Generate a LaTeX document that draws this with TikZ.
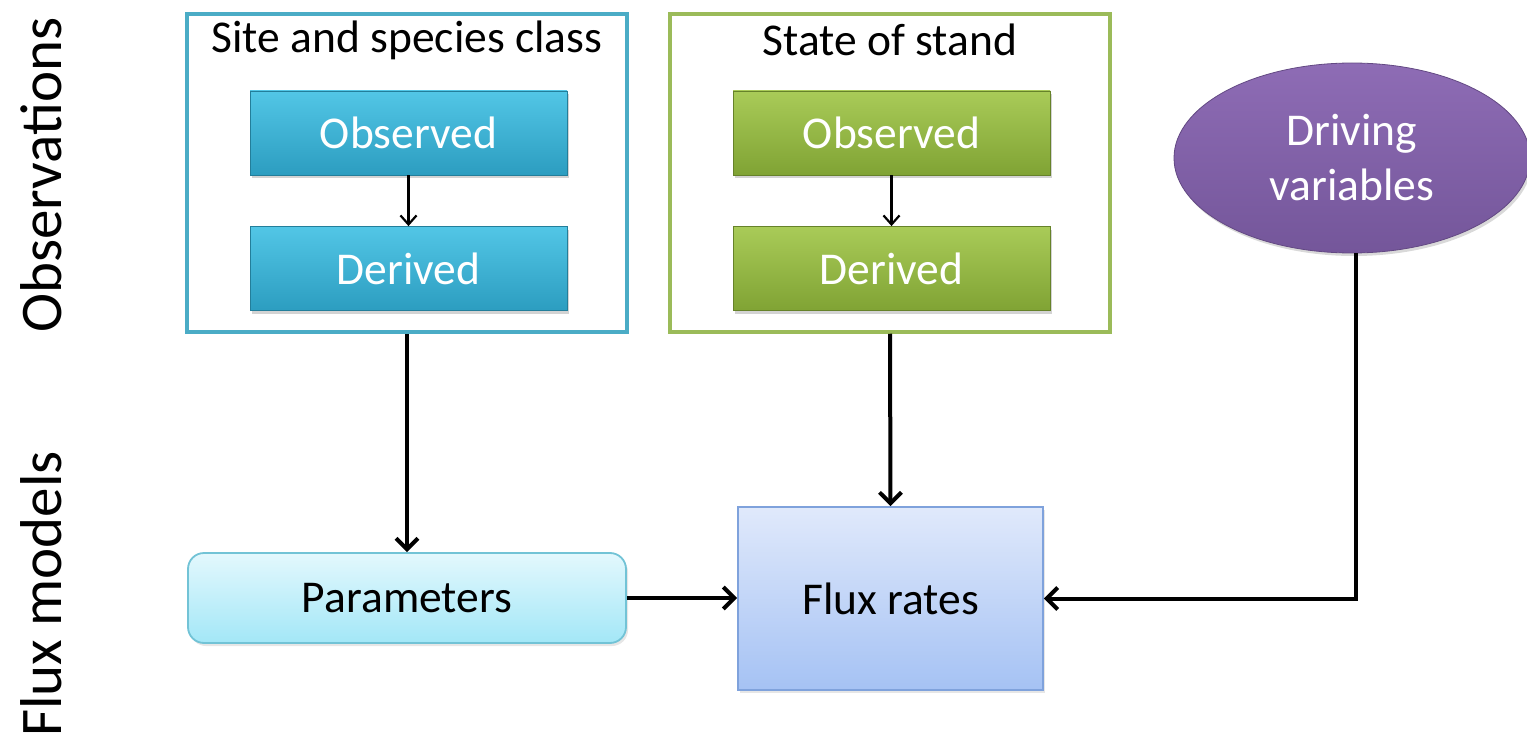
\documentclass[tikz,border=0pt]{standalone}
\usepackage{fontspec}
\setmainfont{Carlito}
\usetikzlibrary{arrows.meta,shapes.geometric,shadows}
\definecolor{cyanline}{HTML}{4BACC6}
\definecolor{greenline}{HTML}{9BBB59}
\definecolor{cyantop}{HTML}{52C6E6}
\definecolor{cyanbot}{HTML}{2C9DC0}
\definecolor{greentop}{HTML}{A9CB58}
\definecolor{greenbot}{HTML}{80A334}
\definecolor{purptop}{HTML}{8E6CB5}
\definecolor{purpbot}{HTML}{74569A}
\definecolor{partop}{HTML}{E3F8FD}
\definecolor{parbot}{HTML}{A3E7F7}
\definecolor{parline}{HTML}{72C3D6}
\definecolor{fluxtop}{HTML}{E0E9FB}
\definecolor{fluxbot}{HTML}{A5C2F4}
\definecolor{fluxline}{HTML}{7FA2DC}
\tikzset{
  bigfont/.style={font=\fontsize{45.5}{52}\selectfont},
  sidefont/.style={font=\fontsize{59}{64}\selectfont},
  group/.style={draw, line width=3.5pt, minimum width=440pt, minimum height=318pt, inner sep=0pt},
  inner/.style={bigfont, text=white, minimum width=317pt, minimum height=84pt, inner sep=0pt,
     drop shadow={shadow xshift=2pt, shadow yshift=-3pt, opacity=0.35}},
  cyanbox/.style={inner, top color=cyantop, bottom color=cyanbot, draw=cyanbot!80!black, line width=0.8pt},
  greenbox/.style={inner, top color=greentop, bottom color=greenbot, draw=greenbot!80!black, line width=0.8pt},
  thinarrow/.style={-{Straight Barb[length=9pt,width=16pt]}, line width=2.2pt},
  thickarrow/.style={-{Straight Barb[length=11pt,width=22pt]}, line width=4pt},
}
\begin{document}
\begin{tikzpicture}[x=1pt,y=-1pt]
\useasboundingbox (0,0) rectangle (1527,741);
% side labels
\node[sidefont, rotate=90] (obslbl) at (41,175) {Observations};
\node[sidefont, rotate=90] (fluxlbl) at (41,594) {Flux models};
% group boxes
\node[group, draw=cyanline] (g1) at (407,173) {};
\node[group, draw=greenline] (g2) at (890,173) {};
\node[bigfont] (t1) at (407,40) {Site and species class};
\node[bigfont] (t2) at (890,40) {State of stand};
% inner boxes
\node[cyanbox] (o1) at (408.5,133) {Observed};
\node[cyanbox] (d1) at (408.5,268.5) {Derived};
\node[greenbox] (o2) at (891.5,133) {Observed};
\node[greenbox] (d2) at (891.5,268.5) {Derived};
% driving variables
\node[ellipse, bigfont, text=white, align=center, minimum width=356pt, minimum height=190pt, inner sep=0pt,
      top color=purptop, bottom color=purpbot, draw=purpbot!85!black, line width=0.8pt,
      drop shadow={shadow xshift=2pt, shadow yshift=-3pt, opacity=0.3}] (drv) at (1352,158) {Driving\\[3pt]variables};
% flux model boxes
\node[bigfont, rounded corners=16pt, minimum width=438pt, minimum height=90pt, inner sep=0pt,
      top color=partop, bottom color=parbot, draw=parline, line width=1.8pt,
      drop shadow={shadow xshift=2pt, shadow yshift=-3pt, opacity=0.2}] (par) at (407,598) {Parameters};
\node[bigfont, minimum width=305pt, minimum height=183pt, inner sep=0pt,
      top color=fluxtop, bottom color=fluxbot, draw=fluxline, line width=1.8pt,
      drop shadow={shadow xshift=2pt, shadow yshift=-3pt, opacity=0.2}] (flux) at (890.5,598.5) {Flux rates};
% connectors
\draw[thinarrow] (o1.south) -- (d1.north);
\draw[thinarrow] (o2.south) -- (d2.north);
\draw[thickarrow] (g1.south) -- (par.north);
\draw[thickarrow] (g2.south) -- (flux.north);
\draw[thickarrow] (par.east) -- (par.east -| flux.west);
\coordinate (drvb) at ([xshift=4pt]drv.south);
\draw[thickarrow] (drvb) |- (flux.east);
\end{tikzpicture}
\end{document}
